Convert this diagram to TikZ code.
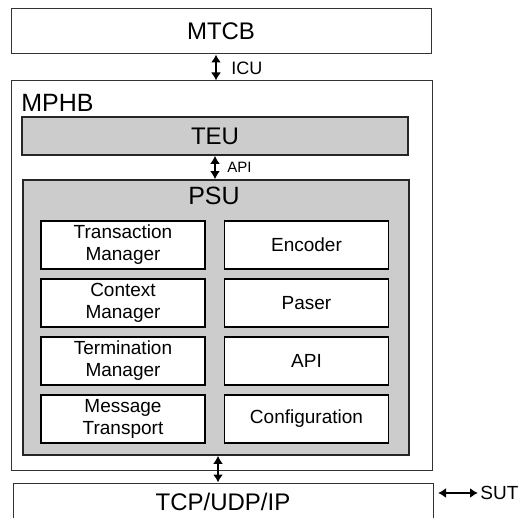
\documentclass[tikz,border=0pt]{standalone}
\usepackage{fontspec}
\setmainfont{Liberation Sans}
\usetikzlibrary{arrows.meta}

\begin{document}
\begin{tikzpicture}[x=0.5pt,y=-0.5pt,
  blk/.style={draw=black!80, line width=0.5pt, inner sep=0pt},
  unit/.style={draw=black!85, line width=0.9pt, fill=black!20, inner sep=0pt},
  part/.style={draw, line width=0.6pt, fill=white, minimum width=82pt, minimum height=24pt,
    align=center, inner sep=0pt, font=\fontsize{9.5}{11}\selectfont},
  dbl/.style={{Latex[length=4pt,width=5pt]}-{Latex[length=4pt,width=5pt]}, line width=1.2pt}]
\useasboundingbox (0,0) rectangle (529,518);
\clip (0,0) rectangle (529,518);
% outer blocks
\node[blk, minimum width=210pt, minimum height=22.5pt, font=\fontsize{12}{14}\selectfont] (mtcb) at (221,31.5) {MTCB};
\node[blk, minimum width=210.5pt, minimum height=194.5pt] (mphb) at (221.5,275.5) {};
\node[anchor=west, inner sep=0pt, font=\fontsize{12.5}{15}\selectfont] (mphblbl) at (21,103) {MPHB};
\node[blk, minimum width=210pt, minimum height=19pt, font=\fontsize{12}{14}\selectfont] (tcp) at (223,502) {TCP/UDP/IP};
% units
\node[unit, minimum width=193pt, minimum height=19pt, font=\fontsize{12}{14}\selectfont] (teu) at (215,136) {TEU};
\node[unit, minimum width=193pt, minimum height=137.5pt] (psu) at (216,317.5) {};
\node[inner sep=0pt, font=\fontsize{12.5}{15}\selectfont] (psulbl) at (214,196) {PSU};
% parts of PSU
\node[part] (trans) at (123,245) {Transaction\\Manager};
\node[part] (ctx) at (123,303) {Context\\Manager};
\node[part] (term) at (123,361) {Termination\\Manager};
\node[part] (msg) at (123,419) {Message\\Transport};
\node[part] (enc) at (306.5,245) {Encoder};
\node[part] (paser) at (306.5,303) {Paser};
\node[part] (api) at (306.5,361) {API};
\node[part] (conf) at (306.5,419) {Configuration};
% interfaces
\node[anchor=west, inner sep=0pt, font=\fontsize{9}{11}\selectfont] (icu) at (231,68) {ICU};
\node[anchor=west, inner sep=0pt, font=\fontsize{7.5}{9}\selectfont] (apilbl) at (227,167) {API};
\node[anchor=west, inner sep=1pt, font=\fontsize{9.5}{11}\selectfont] (sut) at (478,493) {SUT};
\coordinate (sutend) at (438,493);
\draw[dbl, transform canvas={xshift=-2.5pt}] (mtcb.south) -- (mtcb.south |- mphb.north);
\draw[dbl] (teu.south) -- (teu.south |- psu.north);
\draw[dbl, transform canvas={xshift=1pt}] (psu.south) -- (psu.south |- tcp.north);
\draw[dbl] (sutend) -- (sut.west);
\end{tikzpicture}
\end{document}
